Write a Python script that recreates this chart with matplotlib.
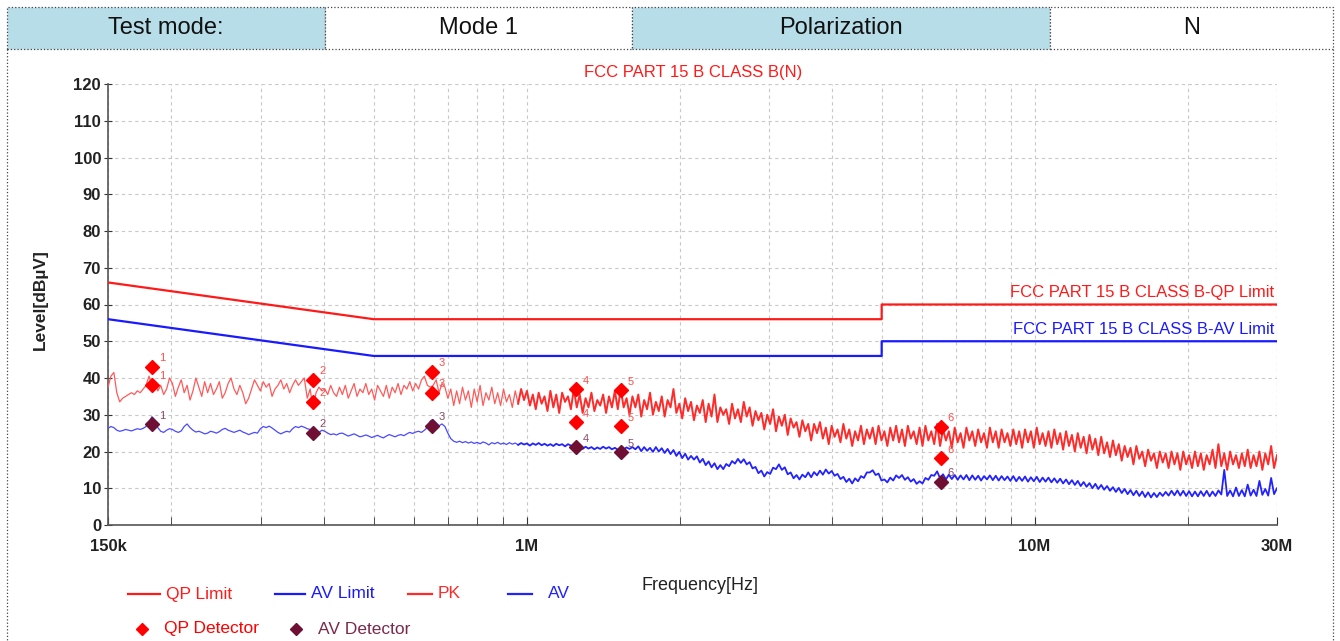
import numpy as np
import matplotlib
matplotlib.use("Agg")
import matplotlib.pyplot as plt
from matplotlib.lines import Line2D
from matplotlib.patches import Rectangle
from matplotlib.ticker import NullFormatter

# header table
header_cells = ["Test mode:", "Mode 1", "Polarization", "N"]

# limit lines (MHz, dBuV)
limit_freq_mhz = [0.15, 0.5, 5.0, 5.0, 30.0]
qp_limit = [66, 56, 56, 60, 60]
av_limit = [56, 46, 46, 50, 50]

# final measurement points
marker_ids = ["1", "2", "3", "4", "5", "6"]
marker_freq_mhz = [0.183, 0.379, 0.650, 1.250, 1.535, 6.540]
qp_peak = [43.1, 39.5, 41.7, 36.9, 36.7, 26.7]
qp_detector = [38.1, 33.5, 36.0, 27.9, 26.9, 18.2]
av_detector = [27.4, 25.1, 27.0, 21.1, 19.8, 11.7]

# prescan traces (150 kHz .. 30 MHz, log sweep)
pk_trace = np.array("""
37.5 40.5 41.5 36 33.5 34.5 35 35.5 36 35.5 36.5 36 37 38 40.5 38 39 36.5 38 35.5
37 40 38.5 35 37.5 39.5 36 38 34 36.5 40 37.5 35 39 36 38.5 35.5 37 39 34.5
36 38.5 40 37 35.5 38 36 33 34.5 37 39.5 38 36.5 39 37.5 38.5 35 37 38 39.5
37 38.5 36 38 39.5 38 39 40 34.5 37 31.5 36 37.5 36.5 37 35.5 38 36 35 37.5
35.5 38 34.5 36.5 38.5 35 37 36 38.5 35.5 37 34 38 36.5 35 38 34.5 37.5 36 38.5
35.5 38 37 39 36.5 38.5 37 39.5 40.5 38 37.5 38 39.5 36 38.5 37.5 34.5 37 32.5 36.5
33 37.5 34 36.5 32 37 33.5 38 32.5 36 34 37.5 33 36 32.5 37 33.5 35.5 32 36.5
33 37 34 36.5 32.5 35.5 31.5 36 33 35 31 36.5 32 35.5 30.5 36 33.5 35 31.5 37
32 35.5 30.5 34.5 32 36 31 34 32.5 35.5 30.5 35 32 36.5 31.5 37 32 34.5 30 35
32 35.5 29.5 34 31.5 36 30 33.5 31 35 29.5 34 32 37 30.5 33 29 34.5 31 33.5
28.5 32.5 30.5 34 28 33 29.5 35.5 28 32 30 31.5 27.5 33 29 31.5 28 33.5 29.5 32
27 31 28.5 30.5 26 30 27.5 31.5 25.5 29.5 27 30 24.5 29 26.5 28 24 28.5 25.5 27.5
23 27.5 25 28 23.5 26.5 22 27 24 26 22.5 27.5 23.5 26 21.5 25.5 23 27 22 26
23.5 26.5 22 27 23 25.5 21.5 26.5 23 27 22.5 26 21.5 27 23.5 25.5 22 26.5 21.5 27
23 25.5 22 27.5 21.5 26 23 25.5 21 26.5 22.5 25 21 26.5 23 25.5 21.5 26 22.5 25
21 26.5 22.5 25.5 21 26 22.5 25 21.5 26 22 25.5 21 26 22.5 25.5 21 26.5 22 25
21.5 25.5 21 26 22 25 20.5 25.5 21.5 24.5 20 25 21 24 19.5 24.5 20.5 23.5 19 24
19.5 22.5 18.5 23 19 22 17.5 21.5 18.5 21 16.5 21.5 18 20 16 20.5 17.5 19.5 15.5 20
17 19.5 15.5 20 16.5 19.5 15 20 16.5 19 15.5 20 16 19.5 15 19 16.5 20.5 15.5 22
16 19.5 15 20 16.5 19 15.5 19.5 16 20.5 15.5 19 16 20 15 19.5 16.5 21.5 15.5 19
""".split(), dtype=float)

av_trace = np.array("""
26.3 26.8 26.5 25.8 25.5 25.7 26 25.8 25.6 25.9 26.2 26 26.3 26.8 28 29.5 28 26.5 25.5 25.2
25.8 26.2 26 25.5 25.2 25.6 26.8 27.5 26.5 25.8 25.3 25.5 25.2 24.8 25 25.5 25.3 25 25.4 26
26.3 25.8 25.5 25.2 25.5 25.8 25.3 25 24.6 24.9 25.2 25 26.2 26.8 26.5 26.9 26.4 25.8 25.2 24.8
25.2 25.5 25.3 26.2 26.8 26.5 26.9 26.6 26.2 26 25.5 24.8 25.2 25.8 25.5 25 24.6 24.8 24.5 24.9
25 24.6 24.2 24.5 24.8 24.4 24 24.2 24.5 24.2 23.8 24.1 24.4 24 23.7 24.2 24.6 24.3 24 24.4
24.6 24.3 24.8 25.2 24.9 25.3 25.5 25.2 25.8 26.5 28.3 28.6 27.8 27 27.5 26.8 25 23.5 22.8 22.5
22.8 22.4 22.7 22.3 22.6 22.2 22.5 22.1 22.6 22.3 21.8 22.4 22.1 22.5 22 22.3 21.9 22.4 22 22.3
21.8 22.3 21.9 22.2 21.6 22.2 21.8 22.3 21.7 22.1 21.6 22 21.5 22.1 21.7 22 21.4 22 21.6 21.2
21 21.5 20.7 21.3 20.8 21.2 20.6 21.1 20.7 21.3 20.8 21.2 20.6 21 20.5 20.9 20.6 21.1 20.7 21.2
20.6 21.4 20.1 21.2 20.2 21 19.9 21.2 20 20.9 19.6 20.7 19.3 20.4 18.8 19.9 18.2 19.4 17.8 18.8
17.8 18.7 17 18 16.3 17.3 15.7 16.8 15.2 16.3 15.2 16.6 16 17.4 16.7 18 16.9 17.9 16.5 17.1
15.4 15.8 14.1 14.8 13.2 14.4 13.9 15.6 15.2 16.5 15 15.7 13.8 14.3 12.7 13.6 12.4 13.7 13 14.3
13 14.4 13.5 14.8 13.7 15.1 14 14.7 13.4 13.9 12.5 13.1 11.7 12.6 11.3 12.7 11.9 13.3 12.8 14.3
14.3 14.9 13.6 14 12.1 12.4 11.6 12.9 12.1 13.5 12.8 13.6 12.3 13 11.8 12.5 11.2 11.9 11.3 12.8
12.3 13.6 13.4 14.6 12.7 13.8 12.4 13.7 12.5 13.6 12.3 13.5 12.4 13.6 12.2 13.5 12.3 13.4 12.1 13.3
12.4 13.5 12.2 13.4 12.1 13.3 12.2 13.2 12 13.3 11.9 13.1 12 13.2 11.8 13 11.9 13.1 11.7 12.9
11.8 12.9 11.6 12.7 11.5 12.6 11.3 12.4 11.1 12.2 10.9 12 10.6 11.7 10.4 11.4 10 11.2 9.8 10.9
9.6 10.6 9.3 10.3 9 10.1 8.7 9.8 8.4 9.5 8.1 9.3 7.9 9.1 7.6 8.9 7.5 8.7 7.6 8.8
7.9 9 8 9.3 8.1 9.4 8 9.3 7.9 9.2 7.8 9.1 7.8 9.2 7.9 9.3 7.8 9.1 7.9 9.4
8.3 15 7.9 9.4 7.8 10.2 7.9 9.5 7.8 11 8 9.6 7.9 12 8.2 9.8 8 12.8 8.4 10
""".split(), dtype=float)

QP_RED = "#ff1a1a"
AV_BLUE = "#1a1aff"
PK_RED = "#ff2a2a"
PK_LIGHT = "#ff5a5a"
AV_TRACE = "#2222ff"
AV_LIGHT = "#4a4aff"
AV_MARK = "#6e0f33"
HEAD_BLUE = "#b7dde8"

W, H = 1340, 641
plt.rcParams["font.family"] = ["Liberation Sans", "DejaVu Sans"]


def fx(px):
    return px / W


def fy(py):
    return 1 - py / H


fig = plt.figure(figsize=(W / 100, H / 100), dpi=100)

# header row
cell_edges = [7, 325, 632, 1050, 1333]
for k, txt in enumerate(header_cells):
    x0, x1 = cell_edges[k], cell_edges[k + 1]
    fig.add_artist(Rectangle((fx(x0), fy(49)), fx(x1 - x0), (49 - 7) / H,
                             transform=fig.transFigure,
                             facecolor=HEAD_BLUE if k % 2 == 0 else "white",
                             edgecolor="#444444", linestyle=":", linewidth=0.9))
    fig.text(fx((x0 + x1) / 2), fy(28), txt, ha="center", va="center", fontsize=17, color="#111111")

# dotted frame around chart area
for xs, ys in [([7, 7], [49, 641]), ([1333, 1333], [49, 641])]:
    fig.add_artist(Line2D([fx(v) for v in xs], [fy(v) for v in ys], transform=fig.transFigure,
                          color="#444444", linestyle=":", linewidth=0.9))

ax = fig.add_axes([fx(108), fy(525), fx(1277 - 108), (525 - 84) / H])
ax.set_xscale("log")

# sparse part of the sweep is drawn thin, the dense HF part heavier
split = 140
pk_f = np.geomspace(0.15e6, 30e6, pk_trace.size)
av_f = np.geomspace(0.15e6, 30e6, av_trace.size)
ax.plot(pk_f[:split + 1], pk_trace[:split + 1], color=PK_LIGHT, linewidth=0.9, zorder=3)
ax.plot(pk_f[split:], pk_trace[split:], color=PK_RED, linewidth=1.4, zorder=3)
ax.plot(av_f[:split + 1], av_trace[:split + 1], color=AV_LIGHT, linewidth=0.9, zorder=3)
ax.plot(av_f[split:], av_trace[split:], color=AV_TRACE, linewidth=1.3, zorder=3)

lf = np.array(limit_freq_mhz) * 1e6
ax.plot(lf, qp_limit, color=QP_RED, linewidth=1.6, zorder=4)
ax.plot(lf, av_limit, color=AV_BLUE, linewidth=1.6, zorder=4)

mf = np.array(marker_freq_mhz) * 1e6
ax.plot(mf, qp_peak, linestyle="none", marker="D", markersize=7, color="#ff0000", zorder=5)
ax.plot(mf, qp_detector, linestyle="none", marker="D", markersize=7, color="#ff0000", zorder=5)
ax.plot(mf, av_detector, linestyle="none", marker="D", markersize=7, color=AV_MARK, zorder=5)
for f, a, b, c, n in zip(mf, qp_peak, qp_detector, av_detector, marker_ids):
    for val, col in [(a, "#ff4d4d"), (b, "#ff4d4d"), (c, "#8a4a68")]:
        ax.annotate(n, (f, val), xytext=(5, 4), textcoords="offset points",
                    fontsize=8, color=col)

ax.set_xlim(0.15e6, 30e6)
ax.set_ylim(0, 120)
ax.set_yticks(range(0, 121, 10))
ax.set_xticks([0.15e6, 1e6, 10e6, 30e6])
ax.set_xticklabels(["150k", "1M", "10M", "30M"])
minor = [f * 1e5 for f in range(2, 10)] + [f * 1e6 for f in range(2, 10)] + [20e6]
ax.set_xticks(minor, minor=True)
ax.xaxis.set_minor_formatter(NullFormatter())

for lab in ax.get_xticklabels() + ax.get_yticklabels():
    lab.set_fontweight("bold")
    lab.set_color("#222222")
    lab.set_fontsize(12)

ax.tick_params(axis="x", which="both", direction="in", length=6, pad=10, color="#333333")
ax.tick_params(axis="y", direction="inout", length=6, pad=2, color="#333333")
ax.grid(True, axis="y", which="major", color="#c8c8c8", linestyle=(0, (3, 3)), linewidth=0.8)
ax.grid(True, axis="x", which="both", color="#c8c8c8", linestyle=(0, (3, 3)), linewidth=0.8)
ax.axvline(30e6, color="#c8c8c8", linestyle=(0, (3, 3)), linewidth=0.8)
for s in ["top", "right"]:
    ax.spines[s].set_visible(False)
for s in ["left", "bottom"]:
    ax.spines[s].set_color("#555555")
    ax.spines[s].set_linewidth(1.2)

ax.text(29.6e6, 61.2, "FCC PART 15 B CLASS B-QP Limit", ha="right", va="bottom",
        color=QP_RED, fontsize=12)
ax.text(29.6e6, 51.2, "FCC PART 15 B CLASS B-AV Limit", ha="right", va="bottom",
        color=AV_BLUE, fontsize=12)

fig.text(fx(693), fy(72), "FCC PART 15 B CLASS B(N)", ha="center", va="center",
         color=QP_RED, fontsize=12)
fig.text(fx(40), fy(300), "Level[dBµV]", ha="center", va="center", rotation=90,
         fontsize=12.5, fontweight="bold", color="#222222")
fig.text(fx(700), fy(585), "Frequency[Hz]", ha="center", va="center",
         fontsize=13, color="#222222")

# legend
legend_lines = [("QP Limit", QP_RED, 128, 160), ("AV Limit", AV_BLUE, 275, 305),
                ("PK", PK_RED, 408, 432), ("AV", AV_TRACE, 508, 532)]
for name, col, x0, x1 in legend_lines:
    fig.add_artist(Line2D([fx(x0), fx(x1)], [fy(594), fy(594)], transform=fig.transFigure,
                          color=col, linewidth=1.6))
    fig.text(fx(x1 + 6 if name != "AV" else x1 + 16), fy(594), name, ha="left", va="center",
             color=col, fontsize=12.5)
legend_marks = [("QP Detector", "#ff0000", 142), ("AV Detector", AV_MARK, 296)]
for name, col, x0 in legend_marks:
    fig.add_artist(Line2D([fx(x0)], [fy(629)], transform=fig.transFigure, marker="D",
                          markersize=6, color=col, linestyle="none"))
    fig.text(fx(x0 + 22), fy(629), name, ha="left", va="center",
             color=col if name.startswith("QP") else "#7a2a4a", fontsize=12.5)

fig.savefig("out.png", dpi=100)
